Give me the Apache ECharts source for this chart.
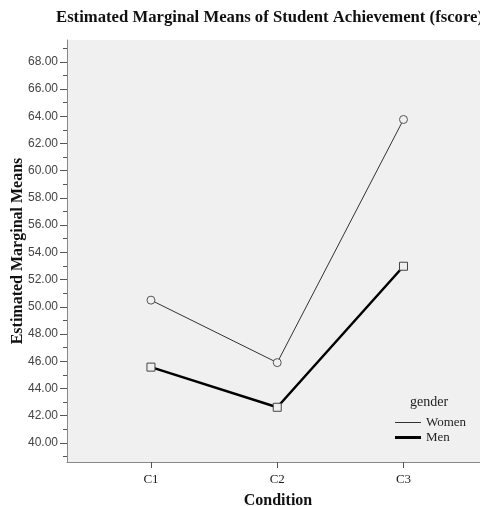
<!DOCTYPE html>
<html>
<head>
<meta charset="utf-8">
<script src="https://cdn.jsdelivr.net/npm/echarts@6/dist/echarts.min.js"></script>
<style>html,body{margin:0;padding:0;background:#fff;}#c{width:480px;height:506px;}</style>
</head>
<body>
<div id="c"></div>
<script>
var categories = ['C1', 'C2', 'C3'];
var women = [50.49, 45.90, 63.76];
var men = [45.57, 42.62, 52.98];
var majorTicks = [40, 42, 44, 46, 48, 50, 52, 54, 56, 58, 60, 62, 64, 66, 68];
var minorTicks = [39, 41, 43, 45, 47, 49, 51, 53, 55, 57, 59, 61, 63, 65, 67, 69];
var catPos = [1, 2, 3];

var serif = 'Liberation Serif';
var chart = echarts.init(document.getElementById('c'), null, {renderer: 'canvas'});
var option = {
  backgroundColor: '#ffffff',
  animation: false,
  title: [
    {text: 'Estimated Marginal Means of Student Achievement (fscore)', left: 56, top: 9,
     padding: 0,
     textStyle: {fontFamily: serif, fontWeight: 'bold', fontSize: 16.7, color: '#111'}},
    {text: 'gender', left: 410, top: 395, padding: 0,
     textStyle: {fontFamily: serif, fontWeight: 'normal', fontSize: 14, color: '#222'}}
  ],
  grid: {left: 67, top: 40, right: 0, bottom: 44, show: true, backgroundColor: '#f0f0f0', borderWidth: 0,
         outerBoundsMode: 'none', containLabel: false},
  legend: [
    {data: ['Women'], left: 395, top: 416, padding: 0, icon: 'rect', itemWidth: 26, itemHeight: 1,
     itemStyle: {color: '#333', borderWidth: 0}, selectedMode: false,
     textStyle: {fontFamily: serif, fontSize: 13, color: '#222'}},
    {data: ['Men'], left: 395, top: 431, padding: 0, icon: 'rect', itemWidth: 26, itemHeight: 3,
     itemStyle: {color: '#000', borderWidth: 0}, selectedMode: false,
     textStyle: {fontFamily: serif, fontSize: 13, color: '#222'}}
  ],
  xAxis: {
    type: 'value', min: 0.335, max: 3.606,
    name: 'Condition', nameLocation: 'middle', nameGap: 31, nameMoveOverlap: false,
    nameTextStyle: {fontFamily: serif, fontWeight: 'bold', fontSize: 16, color: '#111', padding: [0, 0, 0, 9]},
    splitLine: {show: false},
    axisLine: {show: true, onZero: false, lineStyle: {color: '#888', width: 1}},
    axisTick: {show: true, length: 6, customValues: catPos, lineStyle: {color: '#555'}},
    axisLabel: {customValues: catPos, margin: 11, fontFamily: serif, fontSize: 13, color: '#222',
      formatter: function (v) { return categories[Math.round(v) - 1] || ''; }}
  },
  yAxis: [
    {
      type: 'value', min: 38.6, max: 69.6, position: 'left',
      name: 'Estimated Marginal Means', nameLocation: 'middle', nameGap: 41, nameRotate: 90,
      nameMoveOverlap: false,
      nameTextStyle: {fontFamily: serif, fontWeight: 'bold', fontSize: 16, color: '#111'},
      splitLine: {show: false},
      axisLine: {show: true, onZero: false, lineStyle: {color: '#888', width: 1}},
      axisTick: {show: true, length: 7, customValues: majorTicks, lineStyle: {color: '#555'}},
      axisLabel: {customValues: majorTicks, margin: 9, fontFamily: 'Liberation Sans', fontSize: 12, color: '#444',
        formatter: function (v) { return v.toFixed(2); }}
    },
    {
      type: 'value', min: 38.6, max: 69.6, position: 'left',
      splitLine: {show: false},
      axisLine: {show: false},
      axisTick: {show: true, length: 4, customValues: minorTicks, lineStyle: {color: '#555'}},
      axisLabel: {show: false}
    }
  ],
  series: [
    {
      name: 'Women', type: 'line', yAxisIndex: 0,
      data: women.map(function (v, i) { return [catPos[i], v]; }),
      symbol: 'circle', symbolSize: 8,
      lineStyle: {color: '#333', width: 1},
      itemStyle: {color: '#f0f0f0', borderColor: '#555', borderWidth: 1},
      z: 3
    },
    {
      name: 'Men', type: 'line', yAxisIndex: 0,
      data: men.map(function (v, i) { return [catPos[i], v]; }),
      symbol: 'rect', symbolSize: 8,
      lineStyle: {color: '#000', width: 2.5},
      itemStyle: {color: '#f0f0f0', borderColor: '#444', borderWidth: 1},
      z: 4
    }
  ]
};
chart.setOption(option);
</script>
</body>
</html>
